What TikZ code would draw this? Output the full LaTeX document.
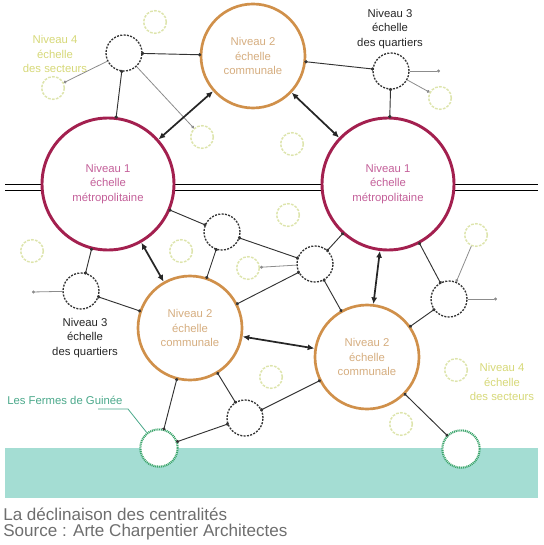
\documentclass[tikz,border=0pt]{standalone}
\usepackage{fontspec}
\setmainfont{Liberation Sans}
\usetikzlibrary{arrows.meta}
\definecolor{metro}{HTML}{A3204F}
\definecolor{metrotxt}{HTML}{C4609A}
\definecolor{commune}{HTML}{D0904A}
\definecolor{communetxt}{HTML}{D6AE80}
\definecolor{secteur}{HTML}{DDE4AC}
\definecolor{secteurtxt}{HTML}{D6D878}
\definecolor{ferme}{HTML}{3CA56C}
\definecolor{fermetxt}{HTML}{4AA88A}
\definecolor{bande}{HTML}{A4DDD3}
\definecolor{legende}{HTML}{6E6E6E}
\begin{document}
\begin{tikzpicture}[x=0.75pt,y=-0.75pt,
  every node/.style={font=\fontsize{8.5}{11}\selectfont, align=center, inner sep=0pt},
  niveauun/.style={circle, draw=metro, line width=2.2pt, fill=white, minimum size=99pt, text=metrotxt},
  niveaudeux/.style={circle, draw=commune, line width=2pt, fill=white, minimum size=78pt, text=communetxt},
  quartier/.style={circle, draw=black!80, line width=1pt, dash pattern=on 1.5pt off 1pt, fill=white, minimum size=27pt},
  secteur/.style={circle, draw=secteur, line width=1.1pt, dash pattern=on 2pt off 1pt, minimum size=17pt},
  ferme/.style={circle, draw=ferme, line width=1.6pt, dash pattern=on 0.8pt off 0.6pt, fill=white, minimum size=28pt},
  lien/.style={draw=black!80, line width=0.7pt, {Circle[length=2.4pt]}-{Circle[length=2.4pt]}, shorten <=-1.2pt, shorten >=-1.2pt},
  lienclair/.style={draw=black!45, line width=0.6pt, -{Circle[length=2.2pt]}},
  echange/.style={draw=black!85, line width=1.3pt, {Latex[length=5pt,width=4.5pt]}-{Latex[length=5pt,width=4.5pt]}},
  etiquette/.style={text=black!85}]
\useasboundingbox (0,0) rectangle (543,545);
% bande et voie
\fill[bande] (5,448) rectangle (538,498);
\draw[line width=0.9pt] (5,184.5) -- (538,184.5);
\draw[line width=0.9pt] (5,190.5) -- (538,190.5);
% niveau 4
\foreach \nom/\px/\py in {s1/155/22, s2/53/88, s3/202/137, s4/440/98, s5/292/144, s6/288/215, s7/476/235,
    s8/32/251, s9/181/251, s10/248/268, s11/271/377, s12/456/370, s13/401/424}
  \node[secteur] (\nom) at (\px,\py) {};
% niveaux 1 et 2
\node[niveauun] (metroG) at (108,184) {Niveau 1\\échelle\\métropolitaine};
\node[niveauun] (metroD) at (388,184) {Niveau 1\\échelle\\métropolitaine};
\node[niveaudeux] (communeH) at (253,56) {Niveau 2\\échelle\\communale};
\node[niveaudeux] (communeG) at (190,328) {Niveau 2\\échelle\\communale};
\node[niveaudeux] (communeD) at (367,357) {Niveau 2\\échelle\\communale};
% niveau 3
\node[quartier] (qA) at (124,53) {};
\node[quartier] (qB) at (391,71) {};
\node[quartier] (qC) at (81,291) {};
\node[quartier] (qD) at (222,232) {};
\node[quartier] (qE) at (315,264) {};
\node[quartier] (qF) at (449,299) {};
\node[quartier] (qG) at (245,418) {};
% fermes
\node[ferme] (fermeG) at (159,448) {};
\node[ferme] (fermeD) at (461,449) {};
% textes
\node[text=secteurtxt] (txtsecteurH) at (55,54) {Niveau 4\\échelle\\des secteurs};
\node[etiquette] (txtquartierH) at (390,29) {Niveau 3\\échelle\\des quartiers};
\node[etiquette] (txtquartierG) at (85,338) {Niveau 3\\échelle\\des quartiers};
\node[text=secteurtxt] (txtsecteurB) at (502,382) {Niveau 4\\échelle\\des secteurs};
\node[text=fermetxt, anchor=west] (txtferme) at (7,400) {Les Fermes de Guinée};
\node[anchor=north west, align=left, text=legende, font=\fontsize{12.8}{12}\selectfont] (legende) at (3,508)
  {La déclinaison des centralités\\Source : Arte Charpentier Architectes};
% liens
\foreach \a/\b in {qA/communeH, qA/metroG, communeH/qB, qB/metroD, metroG/qC, qC/communeG,
    metroG/qD, qD/communeG, qD/qE, metroD/qE, qE/communeG, qE/communeD, metroD/qF, qF/communeD,
    communeD/fermeD, communeG/qG, qG/communeD, qG/fermeG, communeG/fermeG}
  \draw[lien] (\a) -- (\b);
\coordinate (bordB) at (440,71);
\coordinate (bordC) at (32,292);
\coordinate (bordF) at (497,299);
\foreach \a/\b in {qA/s2, qA/s3, qB/bordB, qB/s4, qC/bordC, qE/s10, qF/bordF, s7/qF}
  \draw[lienclair] (\a) -- (\b);
\foreach \a/\b in {metroG/communeH, communeH/metroD, metroG/communeG, metroD/communeD, communeG/communeD}
  \draw[echange] (\a) -- (\b);
\coordinate (guide) at (98,409);
\coordinate (coude) at (128,409);
\draw[draw=fermetxt, line width=0.6pt] (guide) -- (coude) -- (fermeG);
\end{tikzpicture}
\end{document}
